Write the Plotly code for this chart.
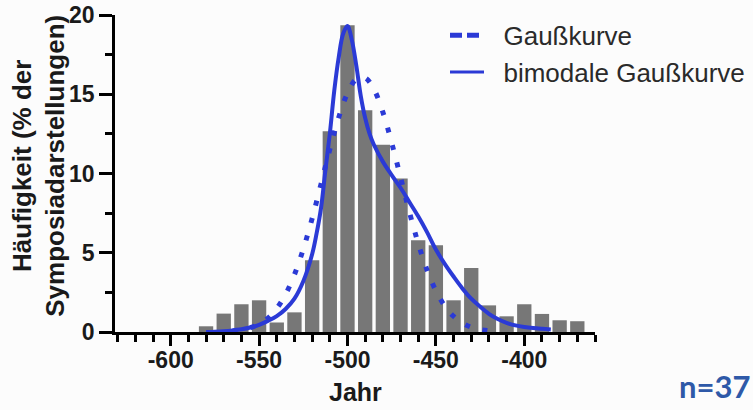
import plotly.graph_objects as go

# Histogram: share of symposion depictions per decade (bin centres, years BC as negative)
years = [-580, -570, -560, -550, -540, -530, -520, -510, -500, -490, -480,
         -470, -460, -450, -440, -430, -420, -410, -400, -390, -380, -370]
share = [0.36, 1.16, 1.75, 2.0, 0.6, 1.24, 4.52, 12.66, 19.35, 13.99, 11.82,
         9.68, 5.79, 5.47, 2.0, 4.04, 1.68, 0.99, 1.75, 1.14, 0.74, 0.68]

# Single Gaussian fit, sampled along the curve
gauss_x = [-565, -560, -555, -550, -545, -540, -535, -530, -525, -520, -515,
           -510, -505, -500, -495, -490, -485, -480, -475, -470, -465, -460,
           -455, -450, -445, -440, -435, -430, -425, -420]
gauss_y = [0.07, 0.14, 0.27, 0.50, 0.88, 1.49, 2.38, 3.62, 5.23, 7.16, 9.32,
           11.52, 13.52, 15.07, 15.95, 16.03, 15.30, 13.87, 11.94, 9.77, 7.58, 5.59,
           3.91, 2.60, 1.64, 0.99, 0.56, 0.30, 0.16, 0.08]

# Bimodal Gaussian fit, sampled along the curve
bimodal_x = [-580, -575, -570, -565, -560, -555, -550, -545, -540, -535, -530,
             -525, -520, -517.5, -515, -512.5, -510, -507.5, -505, -502.5, -500,
             -497.5, -495, -492.5, -490, -487.5, -485, -480, -475, -470, -465,
             -460, -455, -450, -445, -440, -435, -430, -425, -420, -415, -410,
             -405, -400, -395, -390, -385]
bimodal_y = [0.0, 0.02, 0.05, 0.1, 0.17, 0.28, 0.45, 0.7, 1.0, 1.45, 2.1,
             3.2, 4.9, 6.2, 7.8, 10.2, 12.5, 15.2, 17.3, 18.8, 19.3,
             18.4, 16.8, 14.9, 13.5, 12.5, 11.8, 10.75, 9.9, 9.1, 8.2,
             7.3, 6.3, 5.2, 4.3, 3.5, 2.75, 2.1, 1.6, 1.15, 0.82, 0.58,
             0.42, 0.32, 0.25, 0.2, 0.16]

x_ticks = [-600, -550, -500, -450, -400]
y_ticks = [0, 5, 10, 15, 20]

BLUE = "#2b3ad6"
BOLD = dict(family="Liberation Sans, Arial, sans-serif", weight="bold", color="#1a1a1a")
GAP = "\u00a0\u00a0"  # small gap between legend symbol and label

fig = go.Figure()

fig.add_trace(go.Bar(x=years, y=share, marker=dict(color="#777777", line=dict(width=0)),
                     showlegend=False, hoverinfo="x+y"))

fig.add_trace(go.Scatter(x=gauss_x, y=gauss_y, mode="lines", line_shape="spline",
                         line=dict(color=BLUE, width=5, dash="5px,13px"),
                         showlegend=False))

fig.add_trace(go.Scatter(x=bimodal_x, y=bimodal_y, mode="lines", line_shape="spline",
                         line=dict(color=BLUE, width=4), showlegend=False))

# legend entries
fig.add_trace(go.Scatter(x=[None], y=[None], mode="lines", name=GAP + "Gaußkurve",
                         line=dict(color=BLUE, width=5, dash="12px,5px")))
fig.add_trace(go.Scatter(x=[None], y=[None], mode="lines", name=GAP + "bimodale Gaußkurve",
                         line=dict(color=BLUE, width=3)))

fig.update_layout(
    width=753, height=410, autosize=False,
    margin=dict(l=115, r=158, t=15, b=78, autoexpand=False),
    paper_bgcolor="#fcfcfc", plot_bgcolor="#fcfcfc",
    bargap=0.19,
    showlegend=True,
    legend=dict(x=0.6875, y=1.01, xanchor="left", yanchor="top",
                bgcolor="rgba(0,0,0,0)",
                font=dict(family="Liberation Sans, Arial, sans-serif", size=26, color="#2a2a2a"),
                itemwidth=34, tracegroupgap=0),
    xaxis=dict(range=[-631.5, -360], tickmode="array", tickvals=x_ticks,
               ticktext=[str(v) for v in x_ticks],
               showgrid=False, zeroline=False, showline=True, linecolor="black", linewidth=2.5,
               ticks="outside", ticklen=11, tickwidth=2.5, tickcolor="black",
               ticklabelstandoff=-5,
               minor=dict(dtick=10, tick0=-600, ticks="outside", ticklen=7, tickwidth=2.5,
                          tickcolor="black", showgrid=False),
               tickfont=dict(size=23, **BOLD)),
    yaxis=dict(range=[0, 20], tickmode="array", tickvals=y_ticks,
               showgrid=False, zeroline=False, showline=True, linecolor="black", linewidth=2.5,
               ticks="outside", ticklen=13, tickwidth=2.5, tickcolor="black",
               minor=dict(dtick=2.5, tick0=0, ticks="outside", ticklen=7, tickwidth=2.5,
                          tickcolor="black", showgrid=False),
               tickfont=dict(size=23, **BOLD)),
)

fig.add_annotation(text="Jahr", xref="paper", yref="paper", x=0.5, y=-0.189,
                   xanchor="center", yanchor="middle", showarrow=False, borderpad=0,
                   font=dict(size=25, **BOLD))

fig.add_annotation(text="Häufigkeit (% der<br>Symposiadarstellungen)", textangle=-90,
                   xref="paper", yref="paper", x=-0.16, y=0.525, xanchor="center", yanchor="middle",
                   showarrow=False, font=dict(size=26, **BOLD))

fig.add_annotation(text="n=37", xref="paper", yref="paper", x=1.17, y=-0.17,
                   xanchor="left", yanchor="middle", showarrow=False,
                   font=dict(family="Lato, Open Sans, sans-serif", weight="bold", size=31, color="#2e59a8"))

fig.write_html("out.html")
